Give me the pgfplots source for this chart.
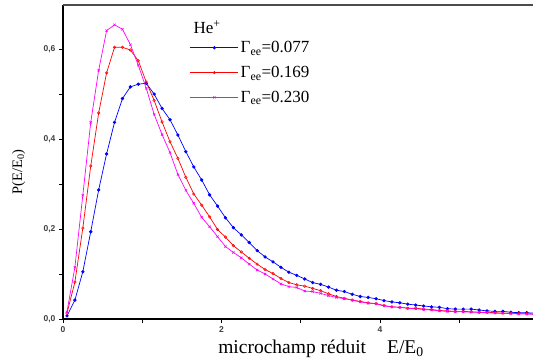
\documentclass[border=0pt]{standalone}
\usepackage{fontspec}
\setmainfont{Liberation Serif}
\newfontfamily\ticksans{Liberation Sans}
\usepackage{pgfplots}
\pgfplotsset{compat=1.18}
\usepackage{pgfplotstable}

\pgfplotstableread{
x y
0.05 0.007
0.15 0.042
0.25 0.105
0.35 0.194
0.45 0.287
0.55 0.367
0.65 0.437
0.75 0.490
0.85 0.516
0.95 0.522
1.05 0.524
1.15 0.500
1.25 0.468
1.35 0.443
1.45 0.409
1.55 0.372
1.65 0.338
1.75 0.309
1.85 0.276
1.95 0.251
2.05 0.225
2.15 0.203
2.25 0.187
2.35 0.170
2.45 0.152
2.55 0.138
2.65 0.127
2.75 0.115
2.85 0.104
2.95 0.097
3.05 0.089
3.15 0.081
3.25 0.077
3.35 0.071
3.45 0.064
3.55 0.061
3.65 0.055
3.75 0.050
3.85 0.048
3.95 0.045
4.05 0.041
4.15 0.038
4.25 0.036
4.35 0.033
4.45 0.031
4.55 0.029
4.65 0.027
4.75 0.026
4.85 0.023
4.95 0.022
5.05 0.022
5.15 0.022
5.25 0.020
5.35 0.018
5.45 0.017
5.55 0.017
5.65 0.015
5.75 0.014
5.85 0.014
5.95 0.013
}\blue

\pgfplotstableread{
x y
0.05 0.013
0.15 0.082
0.25 0.202
0.35 0.340
0.45 0.458
0.55 0.547
0.65 0.604
0.75 0.604
0.85 0.598
0.95 0.574
1.05 0.527
1.15 0.486
1.25 0.438
1.35 0.394
1.45 0.357
1.55 0.315
1.65 0.278
1.75 0.253
1.85 0.227
1.95 0.199
2.05 0.182
2.15 0.163
2.25 0.149
2.35 0.135
2.45 0.122
2.55 0.110
2.65 0.101
2.75 0.090
2.85 0.081
2.95 0.076
3.05 0.073
3.15 0.068
3.25 0.063
3.35 0.056
3.45 0.050
3.55 0.046
3.65 0.042
3.75 0.039
3.85 0.036
3.95 0.034
4.05 0.030
4.15 0.027
4.25 0.026
4.35 0.024
4.45 0.024
4.55 0.022
4.65 0.021
4.75 0.019
4.85 0.018
4.95 0.017
5.05 0.017
5.15 0.016
5.25 0.015
5.35 0.015
5.45 0.014
5.55 0.013
5.65 0.013
5.75 0.012
5.85 0.012
5.95 0.011
}\red

\pgfplotstableread{
x y
0.05 0.016
0.15 0.115
0.25 0.275
0.35 0.437
0.45 0.553
0.55 0.641
0.65 0.654
0.75 0.644
0.85 0.610
0.95 0.564
1.05 0.513
1.15 0.455
1.25 0.410
1.35 0.370
1.45 0.321
1.55 0.286
1.65 0.257
1.75 0.226
1.85 0.205
1.95 0.183
2.05 0.161
2.15 0.148
2.25 0.136
2.35 0.122
2.45 0.109
2.55 0.100
2.65 0.089
2.75 0.078
2.85 0.072
2.95 0.070
3.05 0.062
3.15 0.061
3.25 0.057
3.35 0.052
3.45 0.048
3.55 0.045
3.65 0.042
3.75 0.038
3.85 0.035
3.95 0.034
4.05 0.029
4.15 0.027
4.25 0.026
4.35 0.024
4.45 0.023
4.55 0.021
4.65 0.020
4.75 0.018
4.85 0.017
4.95 0.016
5.05 0.016
5.15 0.015
5.25 0.015
5.35 0.014
5.45 0.013
5.55 0.013
5.65 0.012
5.75 0.011
5.85 0.011
5.95 0.010
}\magenta

\definecolor{cblue}{RGB}{0,0,255}
\definecolor{cred}{RGB}{255,0,0}
\definecolor{cmag}{RGB}{255,0,255}

\begin{document}
\begin{tikzpicture}
\begin{axis}[
  name=ax,
  scale only axis,
  width=470pt, height=314pt,
  xmin=0, xmax=5.93,
  ymin=0, ymax=0.698,
  axis x line*=bottom,
  axis y line*=left,
  axis line style={line width=1.2pt, black},
  tick align=outside,
  tick style={line width=0.9pt, black},
  major tick length=4pt,
  minor tick length=4pt,
  xtick={0,2,4},
  minor xtick={1,3,5},
  ytick={0,0.2,0.4,0.6},
  minor ytick={0.1,0.3,0.5},
  xticklabels={0,2,4},
  yticklabels={{0,0},{0,2},{0,4},{0,6}},
  ticklabel style={font=\ticksans\bfseries\fontsize{8.5}{9}\selectfont, text=black!75},
  /pgf/number format/assume math mode=true,
  xlabel={microchamp réduit\hspace{21pt}E/E$_{\mathrm{0}}$},
  xlabel style={font=\fontsize{19.5}{22}\selectfont, at={(axis description cs:0.5,0)}, anchor=base, xshift=23pt, yshift=-34pt},
  ylabel={P(E/E$_{\mathrm{0}}$)},
  ylabel style={font=\fontsize{14.5}{16}\selectfont, at={(axis description cs:-0.0872,0.468)}, anchor=base},
  legend style={at={(axis cs:1.6,0.622)}, anchor=north west, draw=none, fill=none,
    font=\fontsize{17}{19}\selectfont, row sep=8pt, inner sep=0pt,
    nodes={inner sep=2pt}},
  legend image code/.code={
    \draw[#1, mark=none] (0pt,0pt) -- (48pt,0pt);
    \draw[#1, only marks] plot coordinates {(24pt,0pt)};
  },
  clip=true,
]
\addplot[cblue, line width=0.7pt, mark=*, mark size=1.3pt] table {\blue};
\addlegendentry{Γ\textsubscript{ee}=0.077}
\addplot[cred, line width=0.7pt, mark=o, mark size=1.3pt, mark options={line width=0.5pt}] table {\red};
\addlegendentry{Γ\textsubscript{ee}=0.169}
\addplot[cmag, line width=0.7pt, mark=x, mark size=1.6pt, mark options={line width=0.6pt}] table {\magenta};
\addlegendentry{Γ\textsubscript{ee}=0.230}
\draw[line width=1.6pt, black!70] (rel axis cs:0,1) -- (rel axis cs:1,1);
\node[anchor=base west, font=\fontsize{17}{19}\selectfont, inner sep=0pt] at (axis cs:1.645,0.634) {He\textsuperscript{+}};
\end{axis}
\pgfresetboundingbox
\path ([xshift=-63pt,yshift=-43pt]ax.south west) rectangle ([yshift=5pt]ax.north east);
\end{tikzpicture}
\end{document}
